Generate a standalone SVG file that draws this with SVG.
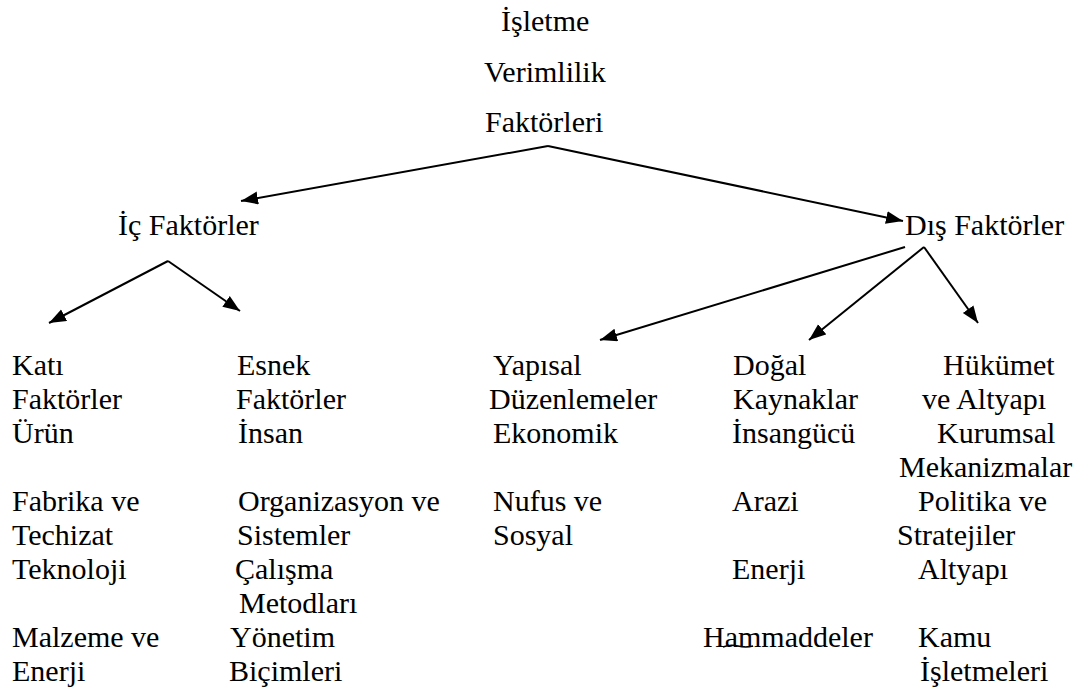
<svg xmlns="http://www.w3.org/2000/svg" width="1081" height="696" viewBox="0 0 1081 696">
<style>
.c line{stroke:#000;stroke-width:2;fill:none}
</style>
<defs>
<marker id="ah" markerUnits="userSpaceOnUse" markerWidth="18" markerHeight="14" refX="17" refY="6.5" orient="auto">
<path d="M0,0 L17,6.5 L0,13 z" fill="#000"/>
</marker>
</defs>
<rect width="1081" height="696" fill="#fff"/>
<g id="root">
<text x="501" y="31" font-family="Liberation Serif" font-size="30">İşletme</text>
<text x="484" y="82" font-family="Liberation Serif" font-size="30">Verimlilik</text>
<text x="485" y="132" font-family="Liberation Serif" font-size="30">Faktörleri</text>
</g>
<g id="ic"><text x="118" y="235" font-family="Liberation Serif" font-size="30">İç Faktörler</text></g>
<g id="dis"><text x="905" y="235" font-family="Liberation Serif" font-size="30">Dış Faktörler</text></g>
<g id="kati">
<text x="12" y="375" font-family="Liberation Serif" font-size="30">Katı</text>
<text x="12" y="409" font-family="Liberation Serif" font-size="30">Faktörler</text>
<text x="12" y="443" font-family="Liberation Serif" font-size="30">Ürün</text>
<text x="12" y="511" font-family="Liberation Serif" font-size="30">Fabrika ve</text>
<text x="12" y="545" font-family="Liberation Serif" font-size="30">Techizat</text>
<text x="12" y="579" font-family="Liberation Serif" font-size="30">Teknoloji</text>
<text x="12" y="647" font-family="Liberation Serif" font-size="30">Malzeme ve</text>
<text x="12" y="681" font-family="Liberation Serif" font-size="30">Enerji</text>
</g>
<g id="esnek">
<text x="237" y="375" font-family="Liberation Serif" font-size="30">Esnek</text>
<text x="236" y="409" font-family="Liberation Serif" font-size="30">Faktörler</text>
<text x="238" y="443" font-family="Liberation Serif" font-size="30">İnsan</text>
<text x="238" y="511" font-family="Liberation Serif" font-size="30">Organizasyon ve</text>
<text x="237" y="545" font-family="Liberation Serif" font-size="30">Sistemler</text>
<text x="235" y="579" font-family="Liberation Serif" font-size="30">Çalışma</text>
<text x="239" y="613" font-family="Liberation Serif" font-size="30">Metodları</text>
<text x="230" y="647" font-family="Liberation Serif" font-size="30">Yönetim</text>
<text x="229" y="681" font-family="Liberation Serif" font-size="30">Biçimleri</text>
</g>
<g id="yapisal">
<text x="493" y="375" font-family="Liberation Serif" font-size="30">Yapısal</text>
<text x="489" y="409" font-family="Liberation Serif" font-size="30">Düzenlemeler</text>
<text x="493" y="443" font-family="Liberation Serif" font-size="30">Ekonomik</text>
<text x="493" y="511" font-family="Liberation Serif" font-size="30">Nufus ve</text>
<text x="493" y="545" font-family="Liberation Serif" font-size="30">Sosyal</text>
</g>
<g id="dogal">
<text x="733" y="375" font-family="Liberation Serif" font-size="30">Doğal</text>
<text x="733" y="409" font-family="Liberation Serif" font-size="30">Kaynaklar</text>
<text x="732" y="443" font-family="Liberation Serif" font-size="30">İnsangücü</text>
<text x="732" y="511" font-family="Liberation Serif" font-size="30">Arazi</text>
<text x="732" y="579" font-family="Liberation Serif" font-size="30">Enerji</text>
<text x="703" y="647" font-family="Liberation Serif" font-size="30">Hammaddeler</text>
<path d="M723,647 q7,-3 15,-1 t15,0" fill="none" stroke="#000" stroke-width="1.5"/>
</g>
<g id="hukumet">
<text x="943" y="375" font-family="Liberation Serif" font-size="30">Hükümet</text>
<text x="922" y="409" font-family="Liberation Serif" font-size="30">ve Altyapı</text>
<text x="937" y="443" font-family="Liberation Serif" font-size="30">Kurumsal</text>
<text x="899" y="477" font-family="Liberation Serif" font-size="30">Mekanizmalar</text>
<text x="918" y="511" font-family="Liberation Serif" font-size="30">Politika ve</text>
<text x="897" y="545" font-family="Liberation Serif" font-size="30">Stratejiler</text>
<text x="918" y="579" font-family="Liberation Serif" font-size="30">Altyapı</text>
<text x="918" y="647" font-family="Liberation Serif" font-size="30">Kamu</text>
<text x="920" y="681" font-family="Liberation Serif" font-size="30">İşletmeleri</text>
</g>
<g id="connectors" class="c">
<line x1="548" y1="146" x2="241" y2="201" marker-end="url(#ah)"/>
<line x1="548" y1="146" x2="903" y2="221" marker-end="url(#ah)"/>
<line x1="168" y1="261" x2="49" y2="323" marker-end="url(#ah)"/>
<line x1="168" y1="261" x2="240" y2="311" marker-end="url(#ah)"/>
<line x1="905" y1="247" x2="600" y2="340" marker-end="url(#ah)"/>
<line x1="924" y1="247" x2="809" y2="340" marker-end="url(#ah)"/>
<line x1="924" y1="247" x2="978" y2="323" marker-end="url(#ah)"/>
</g>
</svg>
